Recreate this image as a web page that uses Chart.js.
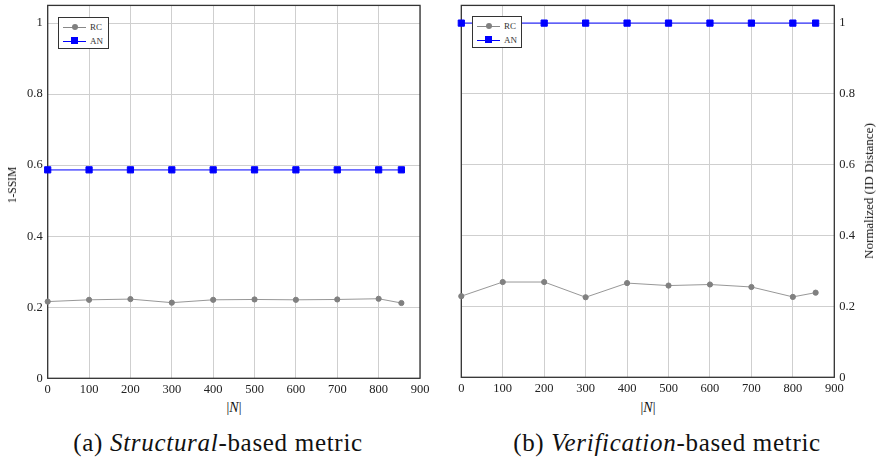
<!DOCTYPE html>
<html><head><meta charset="utf-8">
<script src="https://cdn.jsdelivr.net/npm/chart.js@4.4.0/dist/chart.umd.min.js"></script>
<style>
html,body{margin:0;padding:0;background:#fff;width:878px;height:463px;overflow:hidden;font-family:"Liberation Serif",serif;color:#222;}
.box{position:absolute;}
.legend{position:absolute;background:#fff;border:1px solid #333;box-sizing:border-box;}
.row{position:absolute;left:0;height:10px;width:100%;}
.sample{position:absolute;top:4.5px;height:1px;width:23px;}
.mk{position:absolute;}
.lt{position:absolute;font-size:9px;line-height:10px;top:0;color:#333;}
.ytitle{position:absolute;white-space:nowrap;transform:translate(-50%,-50%) rotate(-90deg);font-size:12px;color:#111;}
.xtitle{position:absolute;white-space:nowrap;transform:translate(-50%,-50%);font-size:14px;color:#111;}
.cap{position:absolute;white-space:nowrap;transform:translate(-50%,-50%);font-size:25px;letter-spacing:0.7px;color:#111;}
</style></head><body>
<div class="box" style="left:0;top:0;width:440px;height:400px"><canvas id="cv1"></canvas></div>
<div class="box" style="left:440px;top:0;width:438px;height:400px"><canvas id="cv2"></canvas></div>

<div class="ytitle" style="left:12px;top:185px;font-size:11.5px">1-SSIM</div>
<div class="ytitle" style="left:869px;top:191px;font-size:13px">Normalized (ID Distance)</div>
<div class="xtitle" style="left:234px;top:408px">|<i>N</i>|</div>
<div class="xtitle" style="left:648px;top:408px">|<i>N</i>|</div>
<div class="cap" style="left:218px;top:443px">(a) <i>Structural</i>-based metric</div>
<div class="cap" style="left:667px;top:443px">(b) <i>Verification</i>-based metric</div>

<div class="legend" style="left:58px;top:17px;width:51px;height:32px">
  <div class="row" style="top:4px"><div class="sample" style="left:4px;background:#888"></div><div class="mk" style="left:12.5px;top:2px;width:6px;height:6px;border-radius:50%;background:#808080"></div><div class="lt" style="left:31px">RC</div></div>
  <div class="row" style="top:18px"><div class="sample" style="left:4px;background:#0000ff"></div><div class="mk" style="left:12px;top:1px;width:7px;height:7px;background:#0000ff"></div><div class="lt" style="left:31px">AN</div></div>
</div>
<div class="legend" style="left:472px;top:16px;width:50px;height:32px">
  <div class="row" style="top:4px"><div class="sample" style="left:4px;background:#888"></div><div class="mk" style="left:12.5px;top:2px;width:6px;height:6px;border-radius:50%;background:#808080"></div><div class="lt" style="left:31px">RC</div></div>
  <div class="row" style="top:18px"><div class="sample" style="left:4px;background:#0000ff"></div><div class="mk" style="left:12px;top:1px;width:7px;height:7px;background:#0000ff"></div><div class="lt" style="left:31px">AN</div></div>
</div>

<script>
const seriesNames = ["RC", "AN"];
const nValues = [0, 100, 200, 300, 400, 500, 600, 700, 800, 855];
const rcStructural = [0.216, 0.221, 0.223, 0.213, 0.221, 0.222, 0.221, 0.222, 0.224, 0.212];
const anStructural = [0.587, 0.587, 0.587, 0.587, 0.587, 0.587, 0.587, 0.587, 0.587, 0.587];
const rcVerification = [0.229, 0.269, 0.269, 0.226, 0.266, 0.259, 0.262, 0.255, 0.227, 0.239];
const anVerification = [1, 1, 1, 1, 1, 1, 1, 1, 1, 1];
const yTicks = [0, 0.2, 0.4, 0.6, 0.8, 1];
const yTickLabels = ["0", "0.2", "0.4", "0.6", "0.8", "1"];
const xTicks = [0, 100, 200, 300, 400, 500, 600, 700, 800, 900];
const xTickLabels = ["0", "100", "200", "300", "400", "500", "600", "700", "800", "900"];

const pts = (ys) => nValues.map((x, i) => ({x: x, y: ys[i]}));
const tickFont = {family: "Liberation Serif", size: 12.5};

const framePlugin = {
  id: 'frame',
  beforeDatasetsDraw(chart) {
    const a = chart.chartArea, ctx = chart.ctx;
    ctx.save();
    ctx.strokeStyle = '#333';
    ctx.lineWidth = 1.3;
    ctx.strokeRect(a.left, a.top, a.right - a.left, a.bottom - a.top);
    ctx.restore();
  }
};

function makeChart(id, rc, an, yPos, pad, yWidth, xHeight) {
  return new Chart(document.getElementById(id), {
    type: 'line',
    data: {
      datasets: [
        {label: seriesNames[0], data: pts(rc), borderColor: 'rgba(140,140,140,0.9)', borderWidth: 1,
         pointBackgroundColor: '#808080', pointBorderColor: '#808080', pointRadius: 2.6, pointBorderWidth: 1,
         pointStyle: 'circle', clip: false, tension: 0},
        {label: seriesNames[1], data: pts(an), borderColor: 'rgba(60,60,255,0.75)', borderWidth: 1.6,
         pointBackgroundColor: '#0000ff', pointBorderColor: '#0000ff', pointRadius: 4.4, pointBorderWidth: 1,
         pointStyle: 'rect', clip: false, tension: 0}
      ]
    },
    options: {
      responsive: true, maintainAspectRatio: false, animation: false,
      layout: {padding: pad},
      plugins: {legend: {display: false}, tooltip: {enabled: false}},
      scales: {
        x: {
          type: 'linear', min: 0, max: 900,
          afterBuildTicks: s => { s.ticks = xTicks.map(v => ({value: v})); },
          afterFit: s => { s.height = xHeight; s.paddingLeft = 0; s.paddingRight = 0; },
          grid: {color: '#cfcfcf', lineWidth: 1, drawTicks: false},
          border: {display: false},
          ticks: {font: tickFont, color: '#222', padding: 4, maxRotation: 0,
                  callback: (v, i) => xTickLabels[i]}
        },
        y: {
          type: 'linear', min: 0, max: 1.05, position: yPos,
          afterBuildTicks: s => { s.ticks = yTicks.map(v => ({value: v})); },
          afterFit: s => { s.width = yWidth; s.paddingTop = 0; s.paddingBottom = 0; },
          grid: {color: '#cfcfcf', lineWidth: 1, drawTicks: false},
          border: {display: false},
          ticks: {font: tickFont, color: '#222', padding: 5,
                  callback: (v, i) => yTickLabels[i]}
        }
      }
    },
    plugins: [framePlugin]
  });
}

makeChart('cv1', rcStructural, anStructural, 'left', {left: 0, top: 5.3, right: 20, bottom: 0}, 47.7, 21.7);
makeChart('cv2', rcVerification, anVerification, 'right', {left: 21.3, top: 5.3, right: 0, bottom: 0}, 43.7, 22.7);
</script>
</body></html>
